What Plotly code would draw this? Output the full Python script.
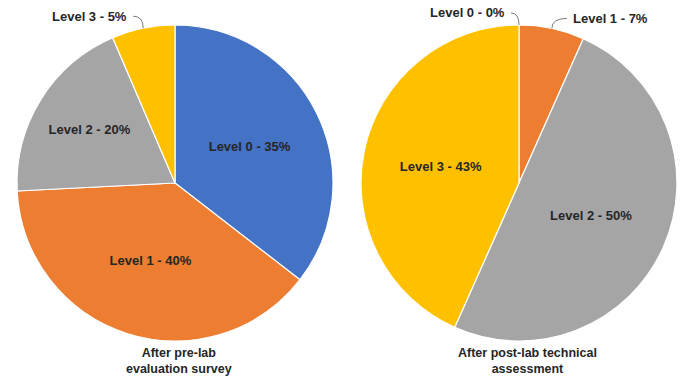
import math
import plotly.graph_objects as go

# ---- data ----
levels = ["Level 0", "Level 1", "Level 2", "Level 3"]
pre_values = [11, 12, 6, 2]          # After pre-lab evaluation survey
pre_text = ["35%", "40%", "20%", "5%"]
post_values = [0, 2, 15, 13]         # After post-lab technical assessment
post_text = ["0%", "7%", "50%", "43%"]
titles = ["After pre-lab<br>evaluation survey", "After post-lab technical<br>assessment"]
colors = ["#4472C4", "#ED7D31", "#A5A5A5", "#FFC000"]

W, H = 682, 377
FONT = "Liberation Sans"
TXT = "#262626"
FS = 13

def px(x):
    return x / W

def py(y):
    return 1 - y / H

pies = [
    dict(values=pre_values, text=pre_text, cx=175, cy=183, r=158, title_dx=4,
         outside={3: (-10, -12, "right")}),
    dict(values=post_values, text=post_text, cx=519, cy=183, r=158, title_dx=8,
         outside={0: (-8, -12, "right"), 1: (15, -10, "left")}),
]

fig = go.Figure()
annotations = []
shapes = []

for i, p in enumerate(pies):
    vals = p["values"]
    total = sum(vals)
    inside = [f"{lv} - {t}" if k not in p["outside"] else "" for k, (lv, t) in enumerate(zip(levels, p["text"]))]
    fig.add_trace(go.Pie(
        values=vals, labels=levels, text=inside, textinfo="text",
        sort=False, direction="clockwise", rotation=0,
        marker=dict(colors=colors, line=dict(color="white", width=1.2)),
        textposition="inside", insidetextorientation="horizontal",
        insidetextfont=dict(family=FONT, size=FS, color=TXT, weight="bold"),
        domain=dict(x=[px(p["cx"] - p["r"]), px(p["cx"] + p["r"])],
                    y=[py(p["cy"] + p["r"]), py(p["cy"] - p["r"])]),
        showlegend=False, hoverinfo="label+text",
    ))
    # outside labels with curved leader lines
    cum = 0
    for k, v in enumerate(vals):
        mid = (cum + v / 2) / total * 2 * math.pi
        cum += v
        if k not in p["outside"]:
            continue
        dx, dy, side = p["outside"][k]
        rx = p["cx"] + p["r"] * math.sin(mid)
        ry = p["cy"] - p["r"] * math.cos(mid)
        lx, ly = rx + dx, ry + dy
        tx = lx - 4 if side == "right" else lx + 4
        annotations.append(dict(
            x=px(tx), y=py(ly), xref="paper", yref="paper",
            xanchor=side, yanchor="middle", showarrow=False,
            text=f"{levels[k]} - {p['text'][k]}",
            font=dict(family=FONT, size=FS, color=TXT, weight="bold"),
        ))
        cxp, cyp = rx, ly
        path = (f"M {px(lx)} {py(ly)} Q {px(cxp)} {py(cyp)} {px(rx)} {py(ry)}")
        shapes.append(dict(type="path", path=path, xref="paper", yref="paper",
                           line=dict(color="#595959", width=0.8)))
    annotations.append(dict(
        x=px(p["cx"] + p["title_dx"]), y=py(344), xref="paper", yref="paper",
        xanchor="center", yanchor="top", showarrow=False,
        text=titles[i],
        font=dict(family=FONT, size=12.5, color=TXT, weight="bold"),
    ))

fig.update_layout(
    width=W, height=H, margin=dict(l=0, r=0, t=0, b=0),
    paper_bgcolor="white", plot_bgcolor="white",
    annotations=annotations, shapes=shapes,
)
fig.write_html("out.html")
